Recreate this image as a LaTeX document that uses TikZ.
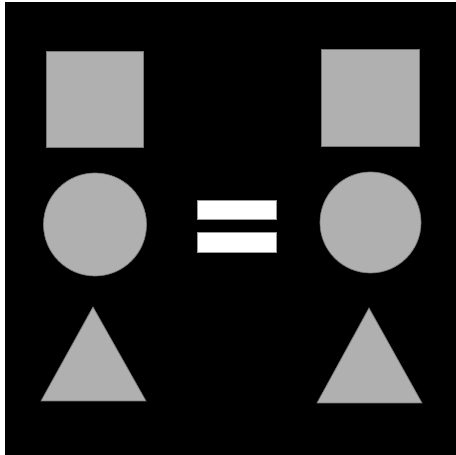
\documentclass[tikz,border=0pt]{standalone}
\usepackage{tikz}
\usetikzlibrary{calc}
\usepackage{xcolor}
\definecolor{shapegray}{RGB}{176,176,176}
\definecolor{edgegray}{RGB}{120,120,120}

\begin{document}
\begin{tikzpicture}[
    x=0.02cm, y=-0.02cm,
    shp/.style={fill=shapegray, draw=edgegray, line width=0.4pt},
    bar/.style={fill=white, draw=black!40, line width=0.4pt},
    panelbg/.style={fill=black, draw=none},
]
\useasboundingbox (0,0) rectangle (456,455);

% ── Background ──
\fill[white] (0,0) rectangle (456,455);
\fill[panelbg] (5,2) rectangle (456,455);

% ── Left column ──
\draw[shp] (46,51) rectangle (143,147);
\draw[shp] (95,224.5) circle (51.5);
\draw[shp] (93,307) -- (146,401) -- (41,401) -- cycle;

% ── Equals sign ──
\draw[bar] (197,200) rectangle (276,219);
\draw[bar] (197,232) rectangle (276,252);

% ── Right column ──
\draw[shp] (321,49) rectangle (419,146);
\draw[shp] (370.5,222.5) circle (50.5);
\draw[shp] (369,308) -- (422,403) -- (317,403) -- cycle;

\end{tikzpicture}
\end{document}
